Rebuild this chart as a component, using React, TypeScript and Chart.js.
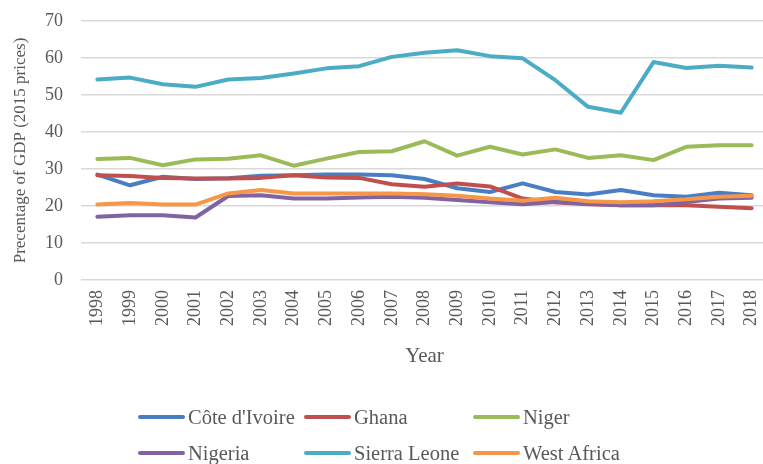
import React, { useEffect, useRef } from "react";
import { Chart, registerables } from "chart.js";

Chart.register(...registerables);

const years = ["1998","1999","2000","2001","2002","2003","2004","2005","2006","2007","2008","2009","2010","2011","2012","2013","2014","2015","2016","2017","2018"];

const coteDIvoire = [28.5, 25.6, 27.9, 27.3, 27.5, 28.2, 28.3, 28.5, 28.5, 28.3, 27.3, 24.8, 23.8, 26.1, 23.8, 23.1, 24.3, 22.9, 22.5, 23.6, 22.9];
const ghana = [28.3, 28.1, 27.6, 27.4, 27.4, 27.6, 28.3, 27.7, 27.6, 25.9, 25.2, 26.1, 25.3, 22.0, 21.0, 20.5, 20.2, 20.2, 20.2, 19.8, 19.4];
const niger = [32.7, 33.0, 31.0, 32.6, 32.8, 33.7, 30.9, 32.8, 34.6, 34.8, 37.5, 33.6, 36.0, 33.9, 35.3, 33.0, 33.7, 32.4, 36.0, 36.4, 36.4];
const nigeria = [17.1, 17.5, 17.5, 16.9, 22.7, 22.9, 22.0, 22.0, 22.3, 22.5, 22.2, 21.6, 21.0, 20.5, 21.1, 20.7, 20.2, 20.2, 21.1, 22.0, 22.2];
const sierraLeone = [54.2, 54.7, 52.9, 52.2, 54.2, 54.6, 55.8, 57.2, 57.8, 60.3, 61.4, 62.1, 60.5, 59.9, 54.0, 46.8, 45.2, 58.9, 57.3, 57.9, 57.4];
const westAfrica = [20.4, 20.8, 20.4, 20.4, 23.4, 24.3, 23.4, 23.4, 23.4, 23.4, 23.2, 22.8, 22.0, 21.4, 22.2, 21.3, 21.0, 21.3, 21.8, 22.5, 22.8];

const seriesNames = ["Côte d'Ivoire", "Ghana", "Niger", "Nigeria", "Sierra Leone", "West Africa"];
const seriesValues = [coteDIvoire, ghana, niger, nigeria, sierraLeone, westAfrica];
const seriesColors = ["#4a7ec4", "#c0504d", "#9bbb59", "#8064a2", "#4bacc6", "#f79646"];

const yTicks = [0, 10, 20, 30, 40, 50, 60, 70];

const FONT = "'Liberation Serif', 'Times New Roman', serif";
const TEXT = "#595959";

export default function App() {
  const ref = useRef<HTMLCanvasElement | null>(null);

  useEffect(() => {
    if (!ref.current) return;
    const chart = new Chart(ref.current, {
      type: "line",
      data: {
        labels: years,
        datasets: seriesNames.map((name, i) => ({
          label: name,
          data: seriesValues[i],
          borderColor: seriesColors[i],
          backgroundColor: seriesColors[i],
          borderWidth: 4,
          pointRadius: 0,
          tension: 0,
          borderCapStyle: "round" as const,
          borderJoinStyle: "round" as const,
          order: seriesNames.length - i,
        })),
      },
      options: {
        responsive: false,
        animation: false,
        layout: { padding: { top: 21, right: 7, bottom: 95, left: 0 } },
        plugins: {
          legend: { display: false },
          tooltip: { enabled: false },
        },
        scales: {
          x: {
            offset: true,
            grid: { display: false, drawTicks: false, offset: true },
            border: { display: false },
            ticks: {
              color: TEXT,
              font: { family: FONT, size: 18 },
              minRotation: 90,
              maxRotation: 90,
              autoSkip: false,
              padding: 10,
            },
            title: {
              display: true,
              text: "Year",
              color: TEXT,
              font: { family: FONT, size: 21 },
              padding: 0,
            },
            afterFit: (s: any) => {
              s.height = 89;
              s.paddingLeft = 0;
              s.paddingRight = 0;
              s.paddingTop = 0;
              s.paddingBottom = 0;
            },
          },
          y: {
            min: yTicks[0],
            max: yTicks[yTicks.length - 1],
            afterBuildTicks: (s: any) => { s.ticks = yTicks.map((v) => ({ value: v })); },
            grid: { color: "#d9d9d9", lineWidth: 1.5, drawTicks: false },
            border: { display: false },
            ticks: {
              color: TEXT,
              font: { family: FONT, size: 18 },
              padding: 18,
            },
            title: {
              display: true,
              text: "Precentage of GDP (2015 prices)",
              color: TEXT,
              font: { family: FONT, size: 17 },
              padding: { top: 10, bottom: 0 },
            },
            afterFit: (s: any) => {
              s.width = 81;
              s.paddingLeft = 0;
              s.paddingRight = 0;
              s.paddingTop = 0;
              s.paddingBottom = 0;
            },
          },
        },
      },
    });
    return () => chart.destroy();
  }, []);

  const cols = [138, 304, 473];
  const rows = [417, 453];

  return (
    <div style={{ position: "fixed", left: 0, top: 0, width: 763, height: 464, overflow: "hidden", background: "#fff" }}>
      <canvas ref={ref} width={775} height={464} style={{ display: "block", width: 775, height: 464 }} />
      {seriesNames.map((name, i) => {
        const c = i % 3;
        const r = Math.floor(i / 3);
        return (
          <div
            key={name}
            style={{
              position: "absolute",
              left: cols[c],
              top: rows[r] - 12,
              height: 24,
              display: "flex",
              alignItems: "center",
              fontFamily: FONT,
              fontSize: 20.5,
              color: TEXT,
              whiteSpace: "nowrap",
            }}
          >
            <span style={{ display: "inline-block", width: 47, height: 4, borderRadius: 2, background: seriesColors[i], marginRight: 3 }} />
            <span>{name}</span>
          </div>
        );
      })}
    </div>
  );
}
